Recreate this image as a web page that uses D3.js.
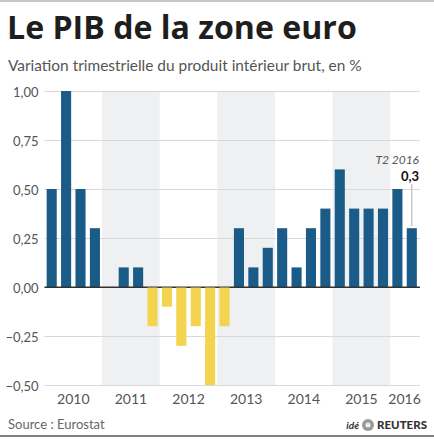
<!DOCTYPE html>
<html>
<head>
<meta charset="utf-8">
<script src="https://cdn.jsdelivr.net/npm/d3@7"></script>
<style>
  body { margin: 0; background: #fff; }
  svg { display: block; font-family: 'Lato', 'Open Sans', sans-serif; }
</style>
</head>
<body>
<svg id="chart" width="434" height="439"></svg>
<script>
const years = ['2010', '2011', '2012', '2013', '2014', '2015', '2016'];
const quarters = ['T1', 'T2', 'T3', 'T4'];
const values = [
  0.5, 1.0, 0.5, 0.3,
  0, 0.1, 0.1, -0.2,
  -0.1, -0.3, -0.2, -0.5,
  -0.2, 0.3, 0.1, 0.2,
  0.3, 0.1, 0.3, 0.4,
  0.6, 0.4, 0.4, 0.4,
  0.5, 0.3
];
const yTicks = [-0.5, -0.25, 0, 0.25, 0.5, 0.75, 1.0];
const shadedYears = ['2011', '2013', '2015'];

document.addEventListener('DOMContentLoaded', function() {
  const svg = d3.select('#chart');
  const W = 434, H = 439;
  const left = 44.5, right = 419, top = 91, bottom = 385;

  // one band per quarter, 2010 T1 .. 2016 T2
  const keys = values.map((v, i) => years[Math.floor(i / 4)] + ' ' + quarters[i % 4]);
  const x = d3.scaleBand().domain(keys).range([left, right]).paddingInner(0.3).paddingOuter(0.15);
  const y = d3.scaleLinear().domain([-0.5, 1]).range([bottom, top]);
  const step = x.step();
  const yearStart = yr => x(yr + ' T1') - (step - x.bandwidth()) / 2;
  const yearEnd = yr => {
    const last = keys.filter(k => k.startsWith(yr)).pop();
    return x(last) + x.bandwidth() + (step - x.bandwidth()) / 2;
  };

  // stretch a text's font size so it spans a given width
  function fitWidth(sel, width) {
    const fs = +sel.attr('font-size');
    const w = sel.node().getComputedTextLength();
    sel.attr('font-size', fs * width / w);
  }

  // top rule
  svg.append('line')
    .attr('x1', 0).attr('x2', W).attr('y1', 1).attr('y2', 1)
    .attr('stroke', '#c8c8c8').attr('stroke-width', 2);

  const title = svg.append('text')
    .attr('x', 7).attr('y', 39)
    .attr('font-family', 'Open Sans, sans-serif')
    .attr('font-size', 30).attr('font-weight', 700).attr('fill', '#1e1e1e')
    .text('Le PIB de la zone euro');
  fitWidth(title, 350);

  const sub = svg.append('text')
    .attr('x', 8).attr('y', 70.5)
    .attr('font-size', 15).attr('fill', '#555')
    .text('Variation trimestrielle du produit intérieur brut, en %');
  fitWidth(sub, 354);

  // alternate year shading
  svg.append('g').selectAll('rect')
    .data(shadedYears)
    .enter().append('rect')
    .attr('x', d => yearStart(d))
    .attr('width', d => yearEnd(d) - yearStart(d))
    .attr('y', top).attr('height', bottom - top)
    .attr('fill', '#eff0f2');

  // grid + y labels
  const yAxis = d3.axisLeft(y).tickValues(yTicks)
    .tickSize(-(right - left + 1))
    .tickFormat(d => d3.format('.2f')(d).replace('.', ','));
  const gy = svg.append('g')
    .attr('transform', `translate(${left},0)`)
    .call(yAxis);
  gy.select('.domain').remove();
  gy.selectAll('.tick line').attr('stroke', d => d === 0 ? '#333' : '#d9d9d9');
  gy.selectAll('.tick text')
    .attr('x', -6).attr('dy', '0.45em')
    .attr('font-family', 'Lato, sans-serif').attr('font-size', 13).attr('fill', '#555');

  // bars
  svg.append('g').selectAll('rect')
    .data(values)
    .enter().append('rect')
    .attr('x', (d, i) => x(keys[i]))
    .attr('width', x.bandwidth())
    .attr('y', d => y(Math.max(0, d)))
    .attr('height', d => Math.abs(y(d) - y(0)))
    .attr('fill', d => d < 0 ? '#f4d34f' : '#1a5b88');

  // redraw zero line above bars
  svg.append('line')
    .attr('x1', left).attr('x2', right + 1).attr('y1', y(0)).attr('y2', y(0))
    .attr('stroke', '#333').attr('stroke-width', 1);

  // year labels
  svg.append('g').selectAll('text')
    .data(years)
    .enter().append('text')
    .attr('x', d => (yearStart(d) + yearEnd(d)) / 2)
    .attr('y', 404)
    .attr('text-anchor', 'middle')
    .attr('font-size', 14).attr('fill', '#555')
    .text(d => d);

  // annotation for the last quarter
  const lastKey = keys[keys.length - 1];
  const lastVal = values[values.length - 1];
  const lx = x(lastKey) + x.bandwidth() / 2;
  svg.append('line')
    .attr('x1', lx).attr('x2', lx)
    .attr('y1', 184).attr('y2', y(lastVal) - 2)
    .attr('stroke', '#bbb').attr('stroke-width', 1.2);
  svg.append('text')
    .attr('x', 419).attr('y', 164)
    .attr('text-anchor', 'end').attr('font-style', 'italic')
    .attr('font-size', 12).attr('fill', '#555')
    .text('T2 2016');
  svg.append('text')
    .attr('x', 419).attr('y', 181)
    .attr('text-anchor', 'end').attr('font-weight', 700)
    .attr('font-size', 13).attr('fill', '#111')
    .text(d3.format('.1f')(lastVal).replace('.', ','));

  // footer
  svg.append('text')
    .attr('x', 8).attr('y', 429)
    .attr('font-size', 13).attr('fill', '#666')
    .text('Source : Eurostat');

  const logo = svg.append('g').attr('transform', 'translate(0,429)');
  logo.append('text')
    .attr('x', 359).attr('text-anchor', 'end')
    .attr('font-size', 10).attr('font-style', 'italic').attr('font-weight', 700).attr('fill', '#333')
    .text('idé');
  logo.append('circle')
    .attr('cx', 368).attr('cy', -4).attr('r', 6)
    .attr('fill', '#999');
  logo.append('circle')
    .attr('cx', 368).attr('cy', -4).attr('r', 2.5)
    .attr('fill', '#eee');
  logo.append('text')
    .attr('x', 377)
    .attr('font-size', 11.5).attr('font-weight', 900).attr('fill', '#333')
    .text('REUTERS');

  svg.append('line')
    .attr('x1', 0).attr('x2', W).attr('y1', 436).attr('y2', 436)
    .attr('stroke', '#555').attr('stroke-width', 1.5);
});
</script>
</body>
</html>
